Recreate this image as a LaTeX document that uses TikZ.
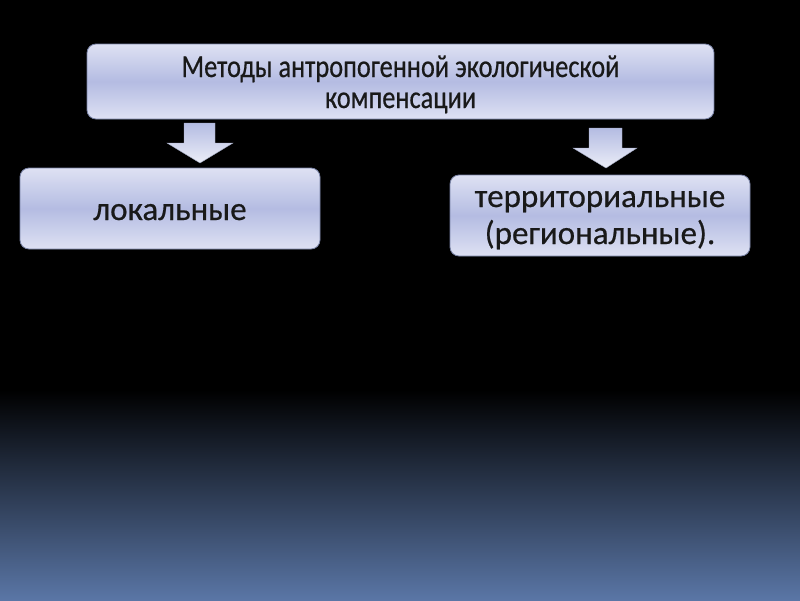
\documentclass[tikz,border=0pt]{standalone}
\usepackage{fontspec}
\setmainfont{Carlito}[FakeBold=0.5]
\newfontfamily\narrowfont{Carlito}[FakeStretch=0.824, FakeBold=0.5]
\usetikzlibrary{positioning}
\definecolor{boxtop}{RGB}{222,225,243}
\definecolor{boxmid}{RGB}{180,188,226}
\definecolor{boxedge}{RGB}{120,130,165}
\definecolor{bgblue}{RGB}{90,118,166}
\tikzset{
  methodbox/.style={draw=boxedge, line width=0.8pt, rounded corners=9pt,
    top color=boxtop, bottom color=boxtop, middle color=boxmid,
    align=center, font=\fontsize{33}{37}\selectfont, text=black!90,
    inner sep=0pt, text depth=0pt},
  topfont/.style={font=\narrowfont\fontsize{32}{31}\selectfont},
  downarrow/.style={draw=boxedge!70, line width=0.4pt,
    top color=boxmid, bottom color=boxtop!60!white}
}
\begin{document}
\begin{tikzpicture}[x=1pt, y=-1pt]
  % background
  \useasboundingbox (0,0) rectangle (800,600);
  \fill[black] (0,0) rectangle (800,600);
  \shade[top color=black, bottom color=bgblue] (0,390) rectangle (800,600);

  % boxes
  \node[methodbox, topfont, text height=53pt, minimum width=627pt, minimum height=75pt]
    (methods) at (400.5,81.5) {Методы антропогенной экологической\\компенсации};
  \node[methodbox, text height=23pt, minimum width=300pt, minimum height=81pt]
    (local) at (170,208.5) {локальные};
  \node[methodbox, text height=57pt, minimum width=300pt, minimum height=81pt]
    (region) at (600,215.5) {территориальные\\(региональные).};

  % arrows
  \draw[downarrow] (184,123) -- (215,123) -- (215,143) -- (233,143) -- (200,163)
    -- (167,143) -- (184,143) -- cycle;
  \draw[downarrow] (589,128) -- (622,128) -- (622,148) -- (637,148) -- (606,168)
    -- (573,148) -- (589,148) -- cycle;
\end{tikzpicture}
\end{document}
